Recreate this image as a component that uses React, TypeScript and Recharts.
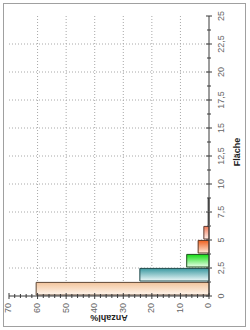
import React from "react";
import {
  ComposedChart,
  Bar,
  Cell,
  XAxis,
  YAxis,
  CartesianGrid,
  Label,
} from "recharts";

// Klassenmitten (Fläche) und Anteil in %
const flaecheMitte = [0.625, 1.875, 3.125, 4.375, 5.625, 6.875, 8.125];
const anzahlProzent = [60.5, 24.2, 7.8, 3.8, 1.8, 0.3, 0.3];

const flaecheTicks = [
  0, 1.25, 2.5, 3.75, 5, 6.25, 7.5, 8.75, 10, 11.25, 12.5, 13.75, 15, 16.25,
  17.5, 18.75, 20, 21.25, 22.5, 23.75, 25,
];
const flaecheGrid = [2.5, 5, 7.5, 10, 12.5, 15, 17.5, 20, 22.5];
const anzahlTicks = [
  0, 2, 4, 6, 8, 10, 12, 14, 16, 18, 20, 22, 24, 26, 28, 30, 32, 34, 36, 38,
  40, 42, 44, 46, 48, 50, 52, 54, 56, 58, 60, 62, 64, 66, 68, 70,
];
const anzahlGrid = [10, 20, 30, 40, 50, 60];

const binFarben = [
  { hell: "#fff6ee", dunkel: "#f2c49c", rand: "#5e4634" },
  { hell: "#eef9f9", dunkel: "#3b99a1", rand: "#1f4a4c" },
  { hell: "#ecffec", dunkel: "#12dc12", rand: "#1c501c" },
  { hell: "#ffeadc", dunkel: "#f0601e", rand: "#5e3420" },
  { hell: "#fff0ea", dunkel: "#f07a58", rand: "#603a30" },
  { hell: "#b0b0b0", dunkel: "#606060", rand: "#404040" },
  { hell: "#b0b0b0", dunkel: "#606060", rand: "#404040" },
];

const data = flaecheMitte.map((f, i) => ({ flaeche: f, anzahl: anzahlProzent[i] }));

const schrift = "'Liberation Sans Narrow', 'Liberation Sans', Arial, sans-serif";
const achse = "#3a3a3a";
const tickText = "#666";

const fmt = (v: number) => String(v).replace(".", ",");

const UntenTick = (props: any) => {
  const { x, y, payload } = props;
  const v = payload.value;
  const major = Math.abs(v / 2.5 - Math.round(v / 2.5)) < 1e-6;
  const l = major ? 3 : 2;
  return (
    <g>
      <line x1={x} x2={x} y1={y - l} y2={y + l} stroke={achse} />
      {major && (
        <text
          x={x}
          y={y + 13}
          textAnchor="middle"
          dominantBaseline="middle"
          fontSize={9}
          fontFamily={schrift}
          fill={tickText}
        >
          {fmt(v)}
        </text>
      )}
    </g>
  );
};

const ObenTick = (props: any) => {
  const { x, y } = props;
  return <line x1={x} x2={x} y1={y} y2={y + 3} stroke={achse} />;
};

const LinksTick = (props: any) => {
  const { x, y, payload } = props;
  const v = payload.value;
  const major = v % 10 === 0;
  const l = major ? 3 : 2;
  return (
    <g>
      <line x1={x - l} x2={x + l} y1={y} y2={y} stroke={achse} />
      {major && (
        <text
          x={x - 7}
          y={y}
          textAnchor="end"
          dominantBaseline="middle"
          fontSize={9}
          fontFamily={schrift}
          fill={tickText}
        >
          {v}
        </text>
      )}
    </g>
  );
};

const RechtsTick = (props: any) => {
  const { x, y } = props;
  return <line x1={x - 2} x2={x + 2} y1={y} y2={y} stroke={achse} />;
};

export default function App() {
  return (
    <div
      style={{
        position: "fixed",
        left: 0,
        top: 0,
        width: 250,
        height: 330,
        background: "#fff",
        overflow: "hidden",
      }}
    >
      <div
        style={{
          position: "absolute",
          left: 3,
          top: 3,
          width: 241,
          height: 322,
          border: "1px solid #a0a0a0",
        }}
      />
      <div
        style={{
          position: "absolute",
          left: 0,
          top: 0,
          width: 330,
          height: 250,
          transformOrigin: "0 0",
          transform: "translateY(330px) rotate(-90deg)",
        }}
      >
        <ComposedChart
          width={330}
          height={250}
          data={data}
          margin={{ top: 9, right: 16, bottom: 0, left: 0 }}
        >
          <defs>
            {binFarben.map((c, i) => (
              <linearGradient key={i} id={`bin${i}`} x1="0" y1="0" x2="1" y2="0">
                <stop offset="0%" stopColor={c.hell} />
                <stop offset="100%" stopColor={c.dunkel} />
              </linearGradient>
            ))}
          </defs>
          <CartesianGrid
            xAxisId="b"
            yAxisId="l"
            verticalValues={flaecheGrid}
            horizontalValues={anzahlGrid}
            stroke="#a8a8a8"
            strokeDasharray="1 2"
          />
          <XAxis
            xAxisId="b"
            dataKey="flaeche"
            type="number"
            domain={[0, 25]}
            ticks={flaecheTicks}
            interval={0}
            height={41}
            tickSize={0}
            tickMargin={0}
            tickLine={false}
            axisLine={{ stroke: achse }}
            tick={UntenTick}
          >
            <Label
              value="Fläche"
              position="insideBottom"
              offset={10}
              dx={4}
              style={{ fontSize: 9, fontWeight: "bold", fontFamily: schrift, fill: "#222" }}
            />
          </XAxis>
          <XAxis
            xAxisId="t"
            orientation="top"
            type="number"
            domain={[0, 25]}
            ticks={flaecheTicks}
            interval={0}
            height={0}
            tickSize={0}
            tickMargin={0}
            tickLine={false}
            axisLine={{ stroke: achse }}
            tick={ObenTick}
          />
          <YAxis
            yAxisId="l"
            type="number"
            domain={[0, 70]}
            ticks={anzahlTicks}
            interval={0}
            width={34}
            tickSize={0}
            tickMargin={0}
            tickLine={false}
            axisLine={{ stroke: achse }}
            tick={LinksTick}
          >
            <Label
              value="Anzahl%"
              angle={-90}
              position="insideLeft"
              offset={12}
              style={{
                textAnchor: "middle",
                fontSize: 9,
                fontWeight: "bold",
                fontFamily: schrift,
                fill: "#222",
              }}
            />
          </YAxis>
          <YAxis
            yAxisId="r"
            orientation="right"
            type="number"
            domain={[0, 70]}
            ticks={anzahlTicks}
            interval={0}
            width={0}
            tickSize={0}
            tickMargin={0}
            tickLine={false}
            axisLine={{ stroke: achse }}
            tick={RechtsTick}
          />
          <Bar
            xAxisId="b"
            yAxisId="l"
            dataKey="anzahl"
            barSize={14}
            isAnimationActive={false}
          >
            {data.map((d, i) => (
              <Cell key={i} fill={`url(#bin${i})`} stroke={binFarben[i].rand} strokeWidth={1} />
            ))}
          </Bar>
        </ComposedChart>
      </div>
    </div>
  );
}
